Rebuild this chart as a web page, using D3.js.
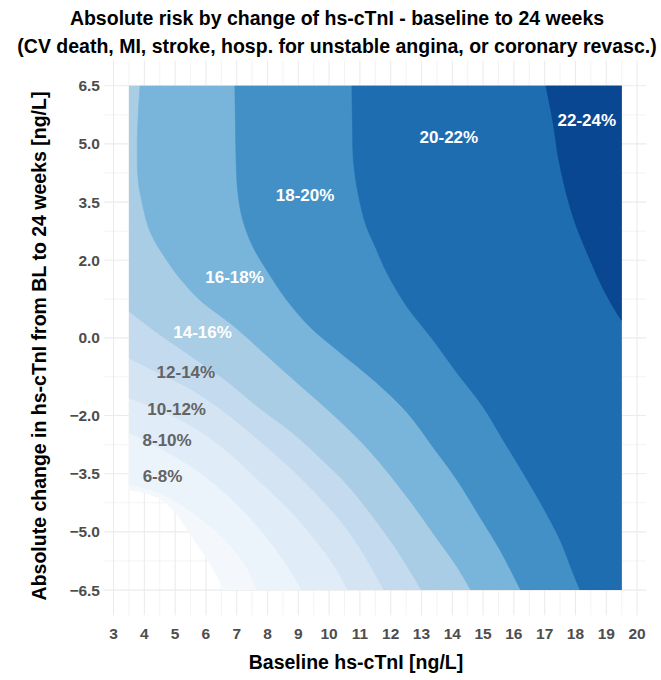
<!DOCTYPE html>
<html><head><meta charset="utf-8">
<script src="https://cdn.jsdelivr.net/npm/d3@7"></script>
<style>
body{margin:0;background:#fff}
svg{display:block}
text{font-family:"Liberation Sans",Arial,Helvetica,sans-serif;font-weight:bold}
</style>
</head><body>
<svg id="chart" width="661" height="680"></svg>
<script>
// ---------- data ----------
const titleLines = [
  "Absolute risk by change of hs-cTnI - baseline to 24 weeks",
  "(CV death, MI, stroke, hosp. for unstable angina, or coronary revasc.)"
];
const xTitle = "Baseline hs-cTnI [ng/L]";
const yTitle = "Absolute change in hs-cTnI from BL to 24 weeks [ng/L]";
const xTicks = [3,4,5,6,7,8,9,10,11,12,13,14,15,16,17,18,19,20];
const yTicks = [6.5,5.0,3.5,2.0,0.0,-2.0,-3.5,-5.0,-6.5];
const yTickLabels = ["6.5","5.0","3.5","2.0","0.0","\u22122.0","\u22123.5","\u22125.0","\u22126.5"];
const xDataExtent = [3.5, 19.5];
const yDataExtent = [-6.5, 6.5];

// contour levels (lower bound of each band) and band colours
const levels = [4,6,8,10,12,14,16,18,20,22];
const bandColors = ["#f4f8fd","#ebf3fb","#e0ecf8","#d4e4f3","#c4daee","#a9cde4","#79b5da","#4290c6","#1f6db1","#0a4792"];

// boundary curves (x = baseline, y = change) where risk crosses each level
const b4  = [[3.5,-3.92],[4.44,-4.12],[5.0,-4.5],[5.48,-5.05],[5.97,-5.62],[6.3,-6.05],[6.59,-6.5]];
const b6  = [[3.5,-3.78],[4.44,-3.98],[5.55,-4.49],[6.62,-5.21],[7.27,-5.85],[7.66,-6.5]];
const b8  = [[3.5,-2.44],[4.44,-2.81],[5.55,-3.33],[6.62,-4.0],[7.69,-4.87],[8.57,-5.79],[9.12,-6.5]];
const b10 = [[3.5,-1.55],[4.44,-1.84],[5.55,-2.28],[6.62,-2.88],[7.69,-3.66],[8.8,-4.51],[9.87,-5.54],[10.3,-6.05],[10.6,-6.5]];
const b12 = [[3.5,-0.52],[4.44,-0.9],[5.55,-1.34],[6.62,-1.92],[7.69,-2.62],[8.8,-3.4],[9.87,-4.26],[10.6,-4.95],[11.23,-5.72],[11.78,-6.5]];
const b14 = [[3.5,0.69],[4.44,0.12],[5.55,-0.49],[6.62,-1.08],[7.69,-1.78],[8.8,-2.44],[9.87,-3.22],[10.6,-3.8],[11.43,-4.62],[12.2,-5.47],[13.0,-6.5]];
const b16 = [[3.86,6.5],[3.8,5.7],[3.77,4.97],[3.8,4.07],[3.93,3.48],[4.19,2.73],[4.77,1.95],[5.22,1.47],[5.81,0.97],[6.94,0.28],[8.02,-0.49],[9.12,-1.27],[10.2,-2.03],[11.3,-2.9],[12.53,-4.1],[13.37,-5.03],[14.15,-5.9],[14.6,-6.5]];
const b18 = [[6.94,6.5],[6.96,5.5],[6.98,4.58],[7.04,3.73],[7.2,3.03],[7.53,2.34],[7.98,1.74],[8.63,0.97],[9.38,0.28],[10.25,-0.31],[11.43,-1.08],[12.53,-1.92],[13.37,-2.81],[14.15,-3.66],[14.9,-4.62],[15.55,-5.47],[16.22,-6.5]];
const b20 = [[10.74,6.5],[10.76,5.5],[10.79,4.58],[10.94,3.73],[11.2,2.9],[11.5,2.35],[11.88,1.67],[12.53,0.8],[13.37,-0.05],[14.15,-0.9],[15.0,-1.78],[15.64,-2.62],[16.3,-3.48],[16.94,-4.36],[17.5,-5.21],[17.92,-6.06],[18.15,-6.5]];
const b22 = [[17.04,6.5],[17.27,5.56],[17.43,4.71],[17.66,3.86],[17.98,2.98],[18.41,2.13],[18.89,1.28],[19.38,0.59],[19.5,0.45]];
const boundaries = [b4,b6,b8,b10,b12,b14,b16,b18,b20,b22];

// in-plot band labels
const bandLabels = ["6-8%","8-10%","10-12%","12-14%","14-16%","16-18%","18-20%","20-22%","22-24%"];
const labelX = [4.59,4.74,5.05,5.35,5.89,6.93,9.22,13.89,18.37];
const labelY = [-3.55,-2.63,-1.84,-0.87,0.16,1.57,3.68,5.19,5.62];
const labelWhite = [false,false,false,false,true,true,true,true,true];

// ---------- drawing ----------
const svg = d3.select("#chart");
const x = d3.scaleLinear().domain([2.7, 20.3]).range([104.3, 646.3]);
const y = d3.scaleLinear().domain([-7.15, 7.15]).range([615.3, 60.5]);

// grid
const grid = svg.append("g");
const xMinor = xTicks.slice(1).map((v,i)=>(v+xTicks[i])/2);
const yMinor = yTicks.slice(1).map((v,i)=>(v+yTicks[i])/2);
grid.selectAll(".vmin").data(xMinor).join("line")
  .attr("x1",d=>x(d)).attr("x2",d=>x(d)).attr("y1",y.range()[0]).attr("y2",y.range()[1])
  .attr("stroke","#f0f0f0").attr("stroke-width",0.8);
grid.selectAll(".hmin").data(yMinor).join("line")
  .attr("y1",d=>y(d)).attr("y2",d=>y(d)).attr("x1",x.range()[0]).attr("x2",x.range()[1])
  .attr("stroke","#f0f0f0").attr("stroke-width",0.8);
grid.selectAll(".vmaj").data(xTicks).join("line")
  .attr("x1",d=>x(d)).attr("x2",d=>x(d)).attr("y1",y.range()[0]).attr("y2",y.range()[1])
  .attr("stroke","#ebebeb").attr("stroke-width",1.1);
grid.selectAll(".hmaj").data(yTicks).join("line")
  .attr("y1",d=>y(d)).attr("y2",d=>y(d)).attr("x1",x.range()[0]).attr("x2",x.range()[1])
  .attr("stroke","#ebebeb").attr("stroke-width",1.1);

// clip to data rectangle
svg.append("clipPath").attr("id","dataClip").append("rect")
  .attr("x",x(xDataExtent[0])).attr("y",y(yDataExtent[1]))
  .attr("width",x(xDataExtent[1])-x(xDataExtent[0]))
  .attr("height",y(yDataExtent[0])-y(yDataExtent[1]));

const curve = d3.line().x(d=>x(d[0])).y(d=>y(d[1])).curve(d3.curveCatmullRom.alpha(0.5));
function regionPath(pts){
  const s = pts[0], e = pts[pts.length-1];
  const corners = [];
  if (e[1] === yDataExtent[0]) corners.push([xDataExtent[1], yDataExtent[0]]);
  corners.push([xDataExtent[1], yDataExtent[1]]);
  if (s[0] === xDataExtent[0]) corners.push([xDataExtent[0], yDataExtent[1]]);
  return curve(pts) + corners.map(c=>"L"+x(c[0])+","+y(c[1])).join("") + "Z";
}
svg.append("g").attr("clip-path","url(#dataClip)")
  .selectAll("path").data(boundaries).join("path")
  .attr("d",regionPath)
  .attr("fill",(d,i)=>bandColors[i])
  .attr("stroke",(d,i)=>bandColors[i]).attr("stroke-width",0.6);

// band labels
svg.append("g").selectAll("text").data(bandLabels).join("text")
  .attr("x",(d,i)=>x(labelX[i])).attr("y",(d,i)=>y(labelY[i]))
  .attr("dy","0.36em").attr("text-anchor","middle")
  .attr("font-size",17)
  .attr("fill",(d,i)=>labelWhite[i] ? "#ffffff" : "#636363")
  .text(d=>d);

// axes tick labels
svg.append("g").selectAll("text").data(xTicks).join("text")
  .attr("x",d=>x(d)).attr("y",639).attr("text-anchor","middle")
  .attr("font-size",15.5).attr("fill","#4d4d4d").text(d=>d);
svg.append("g").selectAll("text").data(yTicks).join("text")
  .attr("x",100).attr("y",d=>y(d)).attr("dy","0.36em").attr("text-anchor","end")
  .attr("font-size",15.5).attr("fill","#4d4d4d").text((d,i)=>yTickLabels[i]);

// axis titles
svg.append("text").attr("x",356).attr("y",669)
  .attr("text-anchor","middle").attr("font-size",19.5).attr("fill","#000").text(xTitle);
svg.append("text").attr("transform",`translate(46,346) rotate(-90)`)
  .attr("text-anchor","middle").attr("font-size",19.5).attr("fill","#000").text(yTitle);

// title
svg.append("g").selectAll("text").data(titleLines).join("text")
  .attr("x",337).attr("y",(d,i)=>25+i*28).attr("text-anchor","middle")
  .attr("font-size",19.5).attr("fill","#000").text(d=>d);
</script>
</body></html>
